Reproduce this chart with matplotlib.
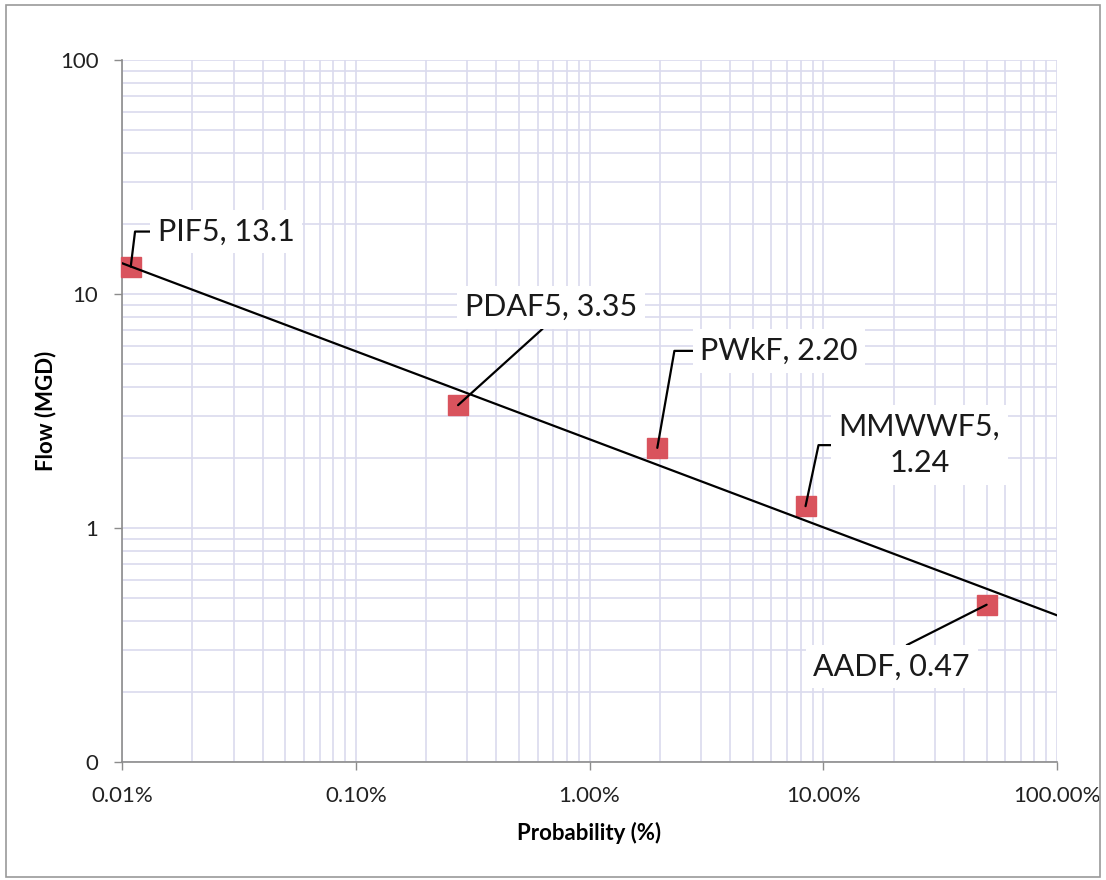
import numpy as np
import matplotlib
matplotlib.use("Agg")
import matplotlib.pyplot as plt
from matplotlib.ticker import FuncFormatter, LogLocator, FixedLocator
from matplotlib.patches import Rectangle

plt.rcParams['font.family'] = ['Lato', 'DejaVu Sans']

# data
names = ["PIF5", "PDAF5", "PWkF", "MMWWF5", "AADF"]
prob = [0.000109, 0.00274, 0.0195, 0.084, 0.50]   # fraction (plotted as %)
flow = [13.1, 3.35, 2.20, 1.24, 0.47]             # MGD
point_labels = ["PIF5, 13.1", "PDAF5, 3.35", "PWkF, 2.20", "MMWWF5,\n1.24", "AADF, 0.47"]

x_ticks = [0.0001, 0.001, 0.01, 0.1, 1.0]
y_ticks = [0.1, 1, 10, 100]
y_tick_labels = ["0", "1", "10", "100"]

grid_col = "#dadaee"
axis_col = "#8c8c8c"
marker_col = "#d9535d"

fig = plt.figure(figsize=(11.06, 8.8), dpi=100)
ax = fig.add_axes([122 / 1106, 118 / 880, 935 / 1106, 702 / 880])

ax.set_xscale("log")
ax.set_yscale("log")
ax.set_xlim(x_ticks[0], x_ticks[-1])
ax.set_ylim(y_ticks[0], y_ticks[-1])

# gridlines, major and minor
ax.xaxis.set_major_locator(FixedLocator(x_ticks))
ax.yaxis.set_major_locator(FixedLocator(y_ticks))
ax.xaxis.set_minor_locator(LogLocator(base=10, subs=np.arange(2, 10)))
ax.yaxis.set_minor_locator(LogLocator(base=10, subs=np.arange(2, 10)))
ax.grid(True, which="both", color=grid_col, lw=1.2)
ax.set_axisbelow(True)
ax.tick_params(which="minor", length=0)
ax.tick_params(which="major", length=6, color=axis_col, width=1,
               labelsize=16, labelcolor="#222222", pad=11)

ax.xaxis.set_major_formatter(FuncFormatter(lambda v, p: f"{v * 100:.2f}%"))
ax.yaxis.set_major_formatter(FuncFormatter(
    lambda v, p: y_tick_labels[int(np.argmin([abs(np.log10(t) - np.log10(v)) for t in y_ticks]))]))

for s in ["top", "right"]:
    ax.spines[s].set_visible(False)
for s in ["left", "bottom"]:
    ax.spines[s].set_color(axis_col)
    ax.spines[s].set_linewidth(1.2)

# power trendline fitted to the points
k, b = np.polyfit(np.log10(prob), np.log10(flow), 1)
xs = np.logspace(np.log10(x_ticks[0]), np.log10(x_ticks[-1]), 50)
ax.plot(xs, 10 ** (k * np.log10(xs) + b), color="black", lw=1.6, zorder=4)

ax.plot(prob, flow, linestyle="none", marker="s", markersize=14,
        color=marker_col, zorder=3, clip_on=False)

# data labels with leader lines
offsets = [(27, 35), (93, 98), (43, 97), (114, 61), (-95, -62)]
aligns = ["left", "center", "left", "center", "center"]
styles = ["angle,angleA=0,angleB=83,rad=0", "arc3,rad=0",
          "angle,angleA=0,angleB=80,rad=0", "angle,angleA=0,angleB=78,rad=0",
          "arc3,rad=0"]
relpos = [(0, 0.5), (0.5, 0), (0, 0.5), (0, 0.5), (0.5, 1)]
for i in range(len(names)):
    ax.annotate(point_labels[i], xy=(prob[i], flow[i]), xytext=offsets[i],
                textcoords="offset pixels", ha=aligns[i], va="center",
                multialignment="center", linespacing=1.35, fontsize=22,
                color="#1a1a1a",
                bbox=dict(boxstyle="square,pad=0.25", fc="white", ec="none"),
                arrowprops=dict(arrowstyle="-", color="black", lw=1.6,
                                connectionstyle=styles[i], relpos=relpos[i],
                                shrinkA=0, shrinkB=0),
                zorder=5)

ax.set_xlabel("Probability (%)", fontsize=16, fontweight="bold")
ax.set_ylabel("Flow (MGD)", fontsize=16, fontweight="bold")
ax.xaxis.set_label_coords(0.5, -(822 - 762) / 702)
ax.yaxis.set_label_coords(-(122 - 56) / 935, 0.5)

# chart border
fig.patches.append(Rectangle((6 / 1106, 3 / 880), 1094 / 1106, 872 / 880,
                             transform=fig.transFigure, fill=False,
                             ec="#9a9a9a", lw=1.2))

fig.savefig("out.png", dpi=100)
